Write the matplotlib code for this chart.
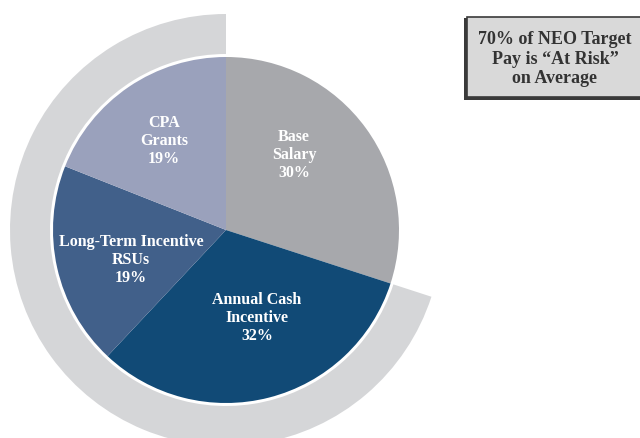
import matplotlib.pyplot as plt
from matplotlib.patches import Wedge, Rectangle

# pay mix, clockwise from twelve o'clock
labels = ["Base\nSalary", "Annual Cash\nIncentive", "Long-Term Incentive\nRSUs", "CPA\nGrants"]
shares = [30, 32, 19, 19]
colors = ["#a7a8ac", "#114a76", "#41608a", "#9aa1bc"]
at_risk = 70

# label anchors (pixels, y measured from top)
label_xy = [(294, 155), (257, 318), (131, 260), (164, 141)]

W, H = 640, 439
cx, cy = 226, H - 231
r_pie = 173

plt.rcParams['font.family'] = ['Liberation Serif', 'DejaVu Serif']

fig = plt.figure(figsize=(6.4, 4.39), dpi=100)
ax = fig.add_axes([0, 0, 1, 1])

ax.pie(shares, colors=colors, startangle=90, counterclock=False,
       center=(cx, cy), radius=r_pie, frame=True)
ax.set_xlim(0, W)
ax.set_ylim(0, H)
ax.set_aspect('equal')
ax.axis('off')

# outer band spanning the at-risk share
start = 90 - 360 * (100 - at_risk) / 100
ax.add_patch(Wedge((cx, cy), 216, 90, start + 360, width=40,
                   facecolor="#d5d6d8", edgecolor="none", zorder=0))

for (x, y), lab, s in zip(label_xy, labels, shares):
    ax.text(x, H - y, f"{lab}\n{s}%", ha='center', va='center', color='white',
            fontsize=11.5, fontweight='bold', linespacing=1.16)

# callout box
ax.add_patch(Rectangle((464, H - 101), 200, 82, facecolor="#3a3a3a",
                       edgecolor="none", zorder=3))
ax.add_patch(Rectangle((467, H - 98), 200, 80, facecolor="#d9d9d9",
                       edgecolor="#3a3a3a", linewidth=1.2, zorder=4))
ax.text(555, H - 59, f"{at_risk}% of NEO Target\nPay is \u201cAt Risk\u201d\non Average",
        ha='center', va='center', color="#333333", fontsize=13,
        fontweight='bold', linespacing=1.22, zorder=5)

fig.savefig("out.png", dpi=100)
